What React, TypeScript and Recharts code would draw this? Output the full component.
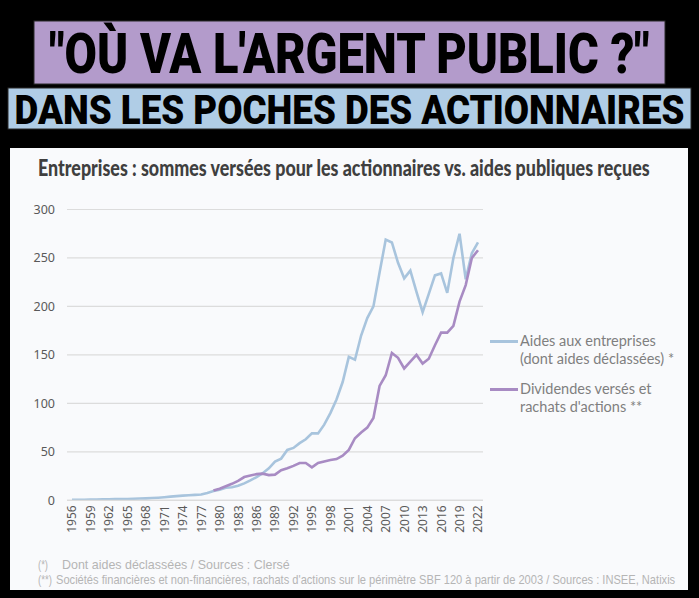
import { useLayoutEffect, useRef, useState } from "react";
import { LineChart, Line, XAxis, YAxis, CartesianGrid, Legend } from "recharts";

const years = [
  "1956", "1957", "1958", "1959", "1960", "1961", "1962", "1963", "1964", "1965",
  "1966", "1967", "1968", "1969", "1970", "1971", "1972", "1973", "1974", "1975",
  "1976", "1977", "1978", "1979", "1980", "1981", "1982", "1983", "1984", "1985",
  "1986", "1987", "1988", "1989", "1990", "1991", "1992", "1993", "1994", "1995",
  "1996", "1997", "1998", "1999", "2000", "2001", "2002", "2003", "2004", "2005",
  "2006", "2007", "2008", "2009", "2010", "2011", "2012", "2013", "2014", "2015",
  "2016", "2017", "2018", "2019", "2020", "2021", "2022",
];

// Aides aux entreprises (dont aides déclassées), Md€
const aides = [
  0.5, 0.5, 0.6, 0.7, 0.8, 1, 1.1, 1.2, 1.3, 1.4,
  1.6, 1.8, 2, 2.3, 2.7, 3.2, 3.8, 4.3, 4.8, 5.2,
  5.6, 6, 7.5, 9.5, 11, 13, 13.5, 15, 17.5, 20.5,
  24, 28, 33, 40, 43, 52, 54, 59, 63, 69,
  69, 78, 90, 104, 122, 148, 145, 170, 188, 200,
  235, 269, 266, 245, 229, 237, 215, 194, 213, 232,
  234, 214, 250, 275, 228, 255, 266,
];

// Dividendes versés et rachats d'actions, Md€ (série à partir de 1979)
const dividendes = [
  null, null, null, null, null, null, null, null, null, null,
  null, null, null, null, null, null, null, null, null, null,
  null, null, null, 10, 12, 14.5, 17, 20, 24, 25.5,
  27, 27.5, 26, 26.5, 31, 33, 35.5, 38.5, 38.5, 34,
  38.5, 40, 41.5, 42.5, 46, 52, 64, 70, 75, 85,
  118, 129, 152, 147, 136, 143, 150, 141, 146, 160,
  173, 173, 180, 205, 222, 250, 258,
];

const yTicks = [0, 50, 100, 150, 200, 250, 300];

const data = years.map((year, i) => ({
  year,
  aides: aides[i],
  dividendes: dividendes[i],
}));

const BLUE = "#a8c4dd";
const PURPLE = "#a88bc3";

// squeezes a text horizontally so that it spans `width` pixels (condensed look)
function FitText({ x, y, width, anchor = "start", children, ...rest }: any) {
  const ref = useRef<SVGTextElement>(null);
  const [sx, setSx] = useState(1);
  useLayoutEffect(() => {
    if (ref.current) {
      const len = ref.current.getComputedTextLength();
      if (len > 0) setSx(width / len);
    }
  }, [width]);
  return (
    <g transform={`translate(${x},${y}) scale(${sx},1)`}>
      <text ref={ref} x={0} y={0} textAnchor={anchor} {...rest}>
        {children}
      </text>
    </g>
  );
}

function YearTick({ x, y, payload }: any) {
  return (
    <text
      x={x}
      y={y}
      transform={`rotate(-90, ${x}, ${y})`}
      textAnchor="end"
      dominantBaseline="central"
      fill="#595959"
      fontSize={12}
      fontFamily="'Noto Sans', sans-serif"
    >
      {payload.value}
    </text>
  );
}

function renderLegend(props: any) {
  const { payload } = props;
  return (
    <div style={{ fontFamily: "Lato, 'Noto Sans', sans-serif", fontSize: 14.5, color: "#7f7f7f" }}>
      {payload.map((entry: any) => (
        <div key={entry.value} style={{ display: "flex", alignItems: "flex-start", marginBottom: 12 }}>
          <div style={{ width: 28, height: 2.5, background: entry.color, marginTop: 8, marginRight: 2, flexShrink: 0 }} />
          <div style={{ whiteSpace: "pre-line", lineHeight: "18px" }}>{entry.value}</div>
        </div>
      ))}
    </div>
  );
}

export default function App() {
  return (
    <div style={{ position: "absolute", left: 0, top: 0, width: 699, height: 598, background: "#000", overflow: "hidden" }}>
      <svg width={699} height={148} style={{ position: "absolute", left: 0, top: 0 }}>
        <rect x={34} y={21} width={631} height={63} fill="#b39bcb" stroke="#2a2a2a" strokeWidth={1} />
        <FitText
          x={349.5}
          y={73}
          width={600}
          anchor="middle"
          fontFamily="Roboto, Lato, sans-serif"
          fontWeight={900}
          fontSize={55}
          fill="#000"
        >
          "OÙ VA L'ARGENT PUBLIC ?"
        </FitText>
        <rect x={8} y={88} width={683} height={41} fill="#b0cde6" stroke="#2a2a2a" strokeWidth={1} />
        <FitText
          x={349.5}
          y={124}
          width={670}
          anchor="middle"
          fontFamily="Roboto, Lato, sans-serif"
          fontWeight={900}
          fontSize={40}
          fill="#000"
        >
          DANS LES POCHES DES ACTIONNAIRES
        </FitText>
      </svg>

      <div style={{ position: "absolute", left: 10, top: 148, width: 678, height: 442, background: "#f9fafc" }}>
        <LineChart
          width={678}
          height={442}
          data={data}
          margin={{ top: 61.5, right: 205, bottom: 49.7, left: 12 }}
        >
          <CartesianGrid horizontal vertical={false} stroke="#dcdcdc" strokeWidth={1.2} />
          <XAxis
            dataKey="year"
            interval={2}
            height={40}
            tickSize={0}
            tickMargin={5}
            axisLine={{ stroke: "#dcdcdc", strokeWidth: 1.2 }}
            tickLine={false}
            padding={{ left: 5, right: 5 }}
            tick={<YearTick />}
          />
          <YAxis
            domain={[0, 300]}
            ticks={yTicks}
            width={45}
            tickSize={0}
            tickMargin={12}
            axisLine={false}
            tickLine={false}
            tick={{ fill: "#595959", fontSize: 12.5, fontFamily: "'Noto Sans', sans-serif" }}
          />
          <Legend
            layout="horizontal"
            verticalAlign="middle"
            align="center"
            wrapperStyle={{ left: 480, top: 184, width: 198, height: "auto" }}
            content={renderLegend}
          />
          <Line
            type="linear"
            dataKey="aides"
            name={"Aides aux entreprises\n(dont aides déclassées) *"}
            stroke={BLUE}
            strokeWidth={2.6}
            dot={false}
            isAnimationActive={false}
          />
          <Line
            type="linear"
            dataKey="dividendes"
            name={"Dividendes versés et\nrachats d'actions **"}
            stroke={PURPLE}
            strokeWidth={2.6}
            dot={false}
            connectNulls={false}
            isAnimationActive={false}
          />
        </LineChart>

        <svg width={678} height={442} style={{ position: "absolute", left: 0, top: 0, pointerEvents: "none" }}>
          <FitText
            x={28}
            y={28}
            width={612}
            fontFamily="Lato, Roboto, sans-serif"
            fontWeight={900}
            fontSize={23}
            fill="#3f3f3f"
          >
            Entreprises : sommes versées pour les actionnaires vs. aides publiques reçues
          </FitText>
          <FitText x={28} y={421} width={10} fontFamily="'Liberation Sans', Arial, sans-serif" fontSize={12.5} fill="#b5b5b5">
            (*)
          </FitText>
          <FitText x={52} y={421} width={228} fontFamily="'Liberation Sans', Arial, sans-serif" fontSize={12.5} fill="#b5b5b5">
            Dont aides déclassées / Sources : Clersé
          </FitText>
          <FitText x={28} y={436} width={14} fontFamily="'Liberation Sans', Arial, sans-serif" fontSize={12.5} fill="#b5b5b5">
            (**)
          </FitText>
          <FitText x={46} y={436} width={620} fontFamily="'Liberation Sans', Arial, sans-serif" fontSize={12.5} fill="#b5b5b5">
            Sociétés financières et non-financières, rachats d'actions sur le périmètre SBF 120 à partir de 2003 / Sources : INSEE,  Natixis
          </FitText>
        </svg>
      </div>
    </div>
  );
}
